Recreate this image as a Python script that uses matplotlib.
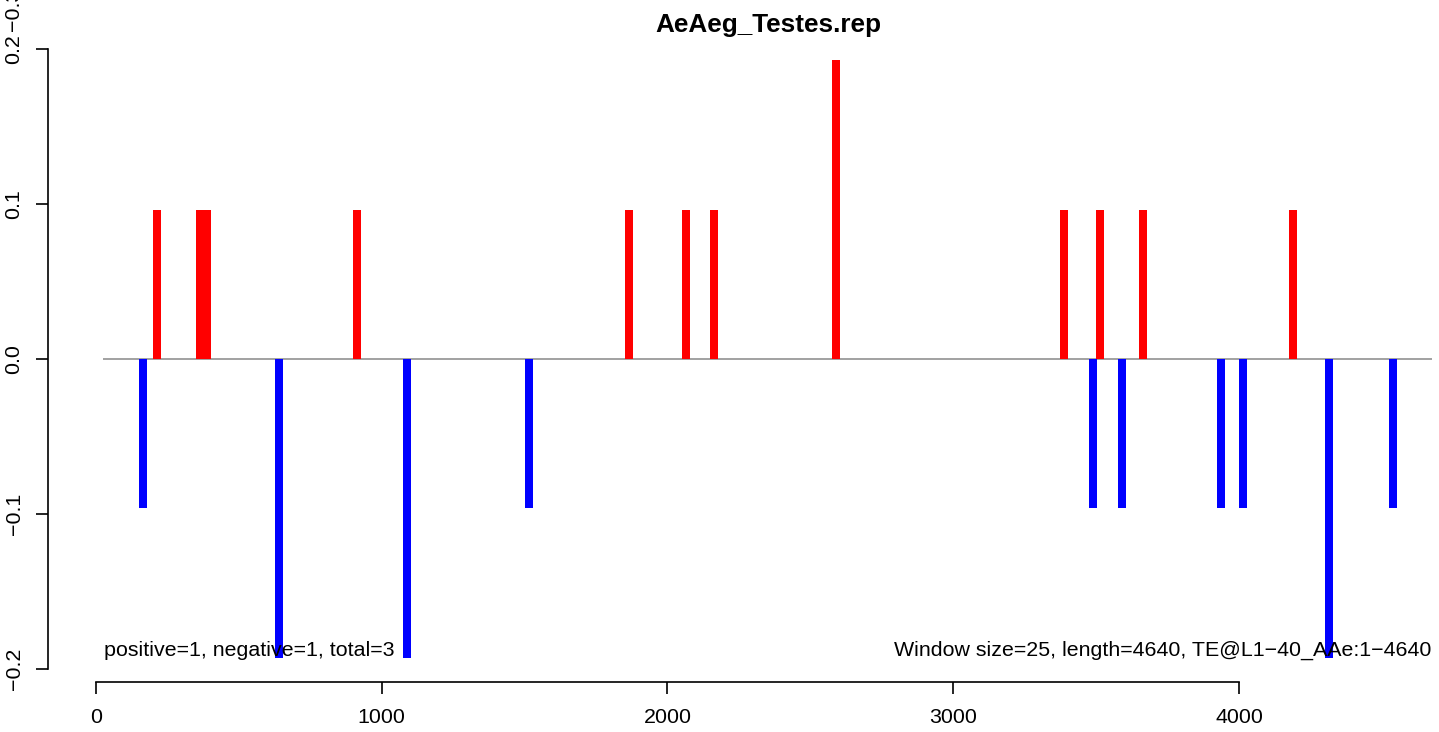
import matplotlib
matplotlib.use("Agg")
import matplotlib.pyplot as plt

plt.rcParams['font.family'] = ['Liberation Sans', 'DejaVu Sans']

# Data
pos_x = [213, 364, 388, 913, 1865, 2065, 2163, 2590, 3388, 3514, 3664, 4189]
pos_y = [0.0961, 0.0961, 0.0961, 0.0961, 0.0961, 0.0961, 0.0961, 0.193,
         0.0961, 0.0961, 0.0961, 0.0961]
neg_x = [164, 640, 1088, 1515, 3489, 3590, 3937, 4014, 4315, 4539]
neg_y = [-0.0961, -0.193, -0.193, -0.0961, -0.0961, -0.0961, -0.0961,
         -0.0961, -0.193, -0.0961]
xticks = [0, 1000, 2000, 3000, 4000]
yticks = [-0.2, -0.1, 0.0, 0.1, 0.2]
ytick_labels = ["\u22120.2", "\u22120.1", "0.0", "0.1", "0.2"]
title = "AeAeg_Testes.rep"
left_note = "positive=1, negative=1, total=3"
right_note = "Window size=25, length=4640, TE@L1\u221240_AAe:1\u22124640"

W, H = 1439, 732
fig = plt.figure(figsize=(W / 100, H / 100), dpi=100)
# axes in pixel coords: left 48, right 1475, top 36, bottom 682
ax = fig.add_axes([48 / W, 1 - 682 / H, (1475 - 48) / W, (682 - 36) / H])
ax.set_xlim(-168, 4826)
ax.set_ylim(-0.2084, 0.2084)

ax.hlines(0, 25, 4675, color='#9a9a9a', lw=1.3, zorder=1)
ax.bar(pos_x, pos_y, width=28, color='#ff0000', zorder=2)
ax.bar(neg_x, neg_y, width=28, color='#0000ff', zorder=2)

for s in ['top', 'right']:
    ax.spines[s].set_visible(False)
ax.spines['left'].set_bounds(-0.2, 0.2)
ax.spines['bottom'].set_bounds(0, 4000)
for s in ['left', 'bottom']:
    ax.spines[s].set_linewidth(1.2)

ax.set_xticks(xticks)
ax.set_xticklabels([str(v) for v in xticks], fontsize=15.4)
ax.set_yticks(yticks)
ax.set_yticklabels(ytick_labels, fontsize=15.4, rotation=90, va='center')
ax.tick_params(axis='both', length=8.6, width=1.2, direction='out')
ax.tick_params(axis='y', pad=9)
ax.tick_params(axis='x', pad=10)

ax.text(28, -0.188, left_note, ha='left', va='center', fontsize=15.4)
ax.text(4675, -0.188, right_note, ha='right', va='center', fontsize=15.4)

fig.text(768 / W, 1 - 25 / H, title, ha='center', va='center',
         fontsize=18.8, fontweight='bold')
fig.text(14 / W, 1 - 31 / H, "\u22120.3", rotation=90, rotation_mode='anchor',
         ha='left', va='center', fontsize=15.4)

fig.savefig("out.png", dpi=100)
